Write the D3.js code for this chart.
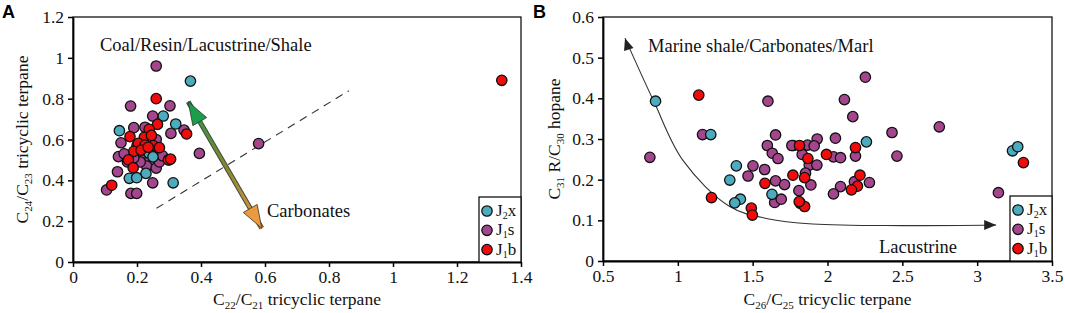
<!DOCTYPE html>
<html>
<head>
<meta charset="utf-8">
<script src="https://cdn.jsdelivr.net/npm/d3@7"></script>
<style>
  body { margin: 0; background: #fff; }
</style>
</head>
<body>
<svg width="1065" height="313"></svg>
<script>
// ---- data ----
var seriesNames = ['J2x', 'J1s', 'J1b'];

// panel A: C22/C21 vs C24/C23
var aJ2x = [[0.367, 0.886], [0.282, 0.715], [0.321, 0.676], [0.145, 0.643], [0.238, 0.532], [0.228, 0.434],
    [0.176, 0.41], [0.199, 0.413], [0.313, 0.388], [0.25, 0.515]];
var aJ1s = [[0.26, 0.96], [0.18, 0.764], [0.303, 0.765], [0.249, 0.715], [0.19, 0.658], [0.225, 0.66],
    [0.306, 0.63], [0.347, 0.646], [0.15, 0.584], [0.395, 0.532], [0.58, 0.58], [0.142, 0.516],
    [0.139, 0.442], [0.249, 0.388], [0.105, 0.353], [0.181, 0.336], [0.199, 0.336],
    [0.2, 0.53], [0.22, 0.52], [0.24, 0.5], [0.25, 0.48], [0.23, 0.47], [0.26, 0.46], [0.27, 0.49],
    [0.21, 0.49], [0.28, 0.52], [0.25, 0.55], [0.2, 0.57], [0.16, 0.53], [0.17, 0.49], [0.22, 0.55],
    [0.19, 0.51], [0.26, 0.6], [0.24, 0.63], [0.3, 0.5]];
var aJ1b = [[1.34, 0.89], [0.26, 0.8], [0.264, 0.674], [0.238, 0.65], [0.355, 0.627], [0.178, 0.614],
    [0.223, 0.611], [0.204, 0.581], [0.225, 0.573], [0.251, 0.57], [0.19, 0.542], [0.2125, 0.548],
    [0.235, 0.562], [0.173, 0.5], [0.298, 0.5], [0.305, 0.504], [0.188, 0.462], [0.121, 0.376],
    [0.27, 0.56], [0.245, 0.62]];

// panel B: C26/C25 vs C31R/C30
var bJ2x = [[0.851, 0.393], [1.22, 0.311], [1.391, 0.234], [1.347, 0.199], [1.629, 0.164], [1.418, 0.152],
    [1.38, 0.143], [2.26, 0.293], [3.236, 0.271], [3.271, 0.281]];
var bJ1s = [[0.813, 0.255], [1.165, 0.311], [1.602, 0.393], [1.653, 0.31], [1.598, 0.284], [1.77, 0.284],
    [1.502, 0.234], [1.58, 0.225], [1.631, 0.265], [1.669, 0.252], [1.469, 0.209], [1.653, 0.197],
    [1.713, 0.188], [1.809, 0.173], [1.647, 0.144], [1.691, 0.152], [2.253, 0.452], [2.113, 0.397],
    [2.169, 0.355], [2.431, 0.316], [2.747, 0.33], [1.931, 0.3], [2.053, 0.302], [1.867, 0.285],
    [1.911, 0.283], [2.187, 0.258], [2.04, 0.256], [2.087, 0.254], [1.831, 0.262], [1.878, 0.236],
    [1.929, 0.236], [1.853, 0.216], [1.889, 0.187], [2.087, 0.183], [2.04, 0.165], [2.18, 0.195],
    [2.28, 0.193], [2.464, 0.258], [3.142, 0.168], [1.762, 0.284]];
var bJ1b = [[1.14, 0.408], [1.813, 0.284], [1.582, 0.191], [1.769, 0.211], [1.847, 0.205], [1.818, 0.142],
    [1.847, 0.134], [1.225, 0.156], [1.491, 0.13], [1.498, 0.113], [2.187, 0.279], [1.993, 0.262],
    [1.869, 0.252], [2.217, 0.211], [2.2, 0.184], [2.16, 0.175], [1.811, 0.146], [3.309, 0.242]];

var aXTicks = [0, 0.2, 0.4, 0.6, 0.8, 1, 1.2, 1.4];
var aYTicks = [0, 0.2, 0.4, 0.6, 0.8, 1, 1.2];
var bXTicks = [0.5, 1, 1.5, 2, 2.5, 3, 3.5];
var bYTicks = [0, 0.1, 0.2, 0.3, 0.4, 0.5, 0.6];

// annotations (data space)
var aDashLine = [[0.261, 0.263], [0.862, 0.839]];
var aDoubleArrow = [[0.36, 0.785], [0.59, 0.165]];
var bCurve = [[0.647, 0.548], [0.84, 0.392], [1.033, 0.248], [1.347, 0.134], [1.6, 0.104],
    [1.9, 0.091], [2.5, 0.087], [3.127, 0.0885]];

var colors = { J2x: '#4bacc0', J1s: '#a4468e', J1b: '#f00c0c' };
var serif = '"Liberation Serif", "Times New Roman", serif';
var sans = '"Liberation Sans", Arial, sans-serif';
var fontSize = 17.5;

var svg = d3.select('svg');

function serifText(sel, size) {
    return sel.style('font-family', serif).style('font-size', size + 'px').attr('fill', '#111');
}

function drawPanel(opt) {
    var x = d3.scaleLinear().domain(opt.xDomain).range([opt.left, opt.right]);
    var y = d3.scaleLinear().domain(opt.yDomain).range([opt.bottom, opt.top]);
    var g = svg.append('g');

    g.append('rect')
        .attr('x', opt.left).attr('y', opt.top)
        .attr('width', opt.right - opt.left).attr('height', opt.bottom - opt.top)
        .attr('fill', 'none').attr('stroke', '#000').attr('stroke-width', 1.2);

    var xa = g.append('g').attr('transform', 'translate(0,' + opt.bottom + ')')
        .call(d3.axisBottom(x).tickValues(opt.xTicks).tickSize(5).tickSizeOuter(0).tickFormat(d3.format('')));
    var ya = g.append('g').attr('transform', 'translate(' + opt.left + ',0)')
        .call(d3.axisLeft(y).tickValues(opt.yTicks).tickSize(5).tickSizeOuter(0).tickFormat(d3.format('')));
    [xa, ya].forEach(function (a) {
        a.select('.domain').attr('stroke-width', 1.8);
        a.selectAll('.tick line').attr('stroke-width', 1.5);
        serifText(a.selectAll('.tick text'), fontSize);
    });
    xa.selectAll('.tick text').attr('dy', '0.72em');
    ya.selectAll('.tick text').attr('x', -9);

    opt.annotate(g, x, y);

    // points: J1s first, then J2x, then J1b on top
    [['J1s', opt.data.J1s], ['J2x', opt.data.J2x], ['J1b', opt.data.J1b]].forEach(function (s) {
        g.selectAll('.pt-' + s[0]).data(s[1]).enter().append('circle')
            .attr('class', 'pt-' + s[0])
            .attr('cx', function (d) { return x(d[0]); })
            .attr('cy', function (d) { return y(d[1]); })
            .attr('r', 5.2)
            .attr('fill', colors[s[0]])
            .attr('stroke', '#111').attr('stroke-width', 1.3);
    });

    // legend box in lower right corner
    var lw = 42, lh = 65;
    var lx = opt.right - lw, ly = opt.bottom - lh;
    var lg = g.append('g');
    lg.append('rect').attr('x', lx).attr('y', ly).attr('width', lw).attr('height', lh)
        .attr('fill', '#fff').attr('stroke', '#000').attr('stroke-width', 1.2);
    seriesNames.forEach(function (name, i) {
        var cy = ly + 14 + i * 19.3;
        lg.append('circle').attr('cx', lx + 8).attr('cy', cy).attr('r', 5.2)
            .attr('fill', colors[name]).attr('stroke', '#111').attr('stroke-width', 1.3);
        var t = serifText(lg.append('text').attr('x', lx + 17).attr('y', cy + 5), 17);
        t.append('tspan').text('J');
        t.append('tspan').style('font-size', '10px').attr('dy', 3).text(name.charAt(1));
        t.append('tspan').attr('dy', -3).text(name.charAt(2));
    });

    // x label
    var xl = serifText(g.append('text').attr('x', (opt.left + opt.right) / 2).attr('y', 305)
        .attr('text-anchor', 'middle'), fontSize);
    subText(xl, opt.xLabel);
    // y label
    var yl = serifText(g.append('text')
        .attr('transform', 'translate(' + opt.yLabelX + ',' + (opt.top + opt.bottom) / 2 + ') rotate(-90)')
        .attr('text-anchor', 'middle'), fontSize);
    subText(yl, opt.yLabel);

    svg.append('text').attr('x', opt.tagX).attr('y', 18)
        .style('font-family', sans).style('font-weight', 'bold').style('font-size', '18px')
        .text(opt.tag);
}

// parts: [text, isSub, afterSub]
function subText(el, parts) {
    parts.forEach(function (p) {
        var ts = el.append('tspan').text(p[0]);
        if (p[1]) ts.style('font-size', '11px').attr('dy', 4);
        else if (p[2]) ts.attr('dy', -4);
    });
}

function headPoints(tip, from, len, half) {
    var dx = tip[0] - from[0], dy = tip[1] - from[1];
    var l = Math.sqrt(dx * dx + dy * dy);
    var ux = dx / l, uy = dy / l;
    var bx = tip[0] - ux * len, by = tip[1] - uy * len;
    return [tip, [bx - uy * half, by + ux * half], [bx + uy * half, by - ux * half]]
        .map(function (p) { return p.join(','); }).join(' ');
}

drawPanel({
    left: 73, right: 521, top: 17, bottom: 262,
    xDomain: [0, 1.4], yDomain: [0, 1.2],
    xTicks: aXTicks, yTicks: aYTicks,
    data: { J2x: aJ2x, J1s: aJ1s, J1b: aJ1b },
    xLabel: [['C'], ['22', 1], ['/C', 0, 1], ['21', 1], [' tricyclic terpane', 0, 1]],
    yLabel: [['C'], ['24', 1], ['/C', 0, 1], ['23', 1], [' tricyclic terpane', 0, 1]],
    yLabelX: 28, tag: 'A', tagX: 2,
    annotate: function (g, x, y) {
        g.append('line')
            .attr('x1', x(aDashLine[0][0])).attr('y1', y(aDashLine[0][1]))
            .attr('x2', x(aDashLine[1][0])).attr('y2', y(aDashLine[1][1]))
            .attr('stroke', '#333').attr('stroke-width', 1.1).attr('stroke-dasharray', '8,6');

        var p0 = [x(aDoubleArrow[0][0]), y(aDoubleArrow[0][1])];
        var p1 = [x(aDoubleArrow[1][0]), y(aDoubleArrow[1][1])];
        var grad = svg.append('defs').append('linearGradient').attr('id', 'arrowGrad')
            .attr('gradientUnits', 'userSpaceOnUse')
            .attr('x1', p0[0]).attr('y1', p0[1]).attr('x2', p1[0]).attr('y2', p1[1]);
        grad.append('stop').attr('offset', '0%').attr('stop-color', '#1c9c4c');
        grad.append('stop').attr('offset', '50%').attr('stop-color', '#7f8a2c');
        grad.append('stop').attr('offset', '100%').attr('stop-color', '#e99a3c');
        g.append('line')
            .attr('x1', p0[0]).attr('y1', p0[1]).attr('x2', p1[0]).attr('y2', p1[1])
            .attr('stroke', '#444').attr('stroke-width', 5);
        g.append('line')
            .attr('x1', p0[0]).attr('y1', p0[1]).attr('x2', p1[0]).attr('y2', p1[1])
            .attr('stroke', 'url(#arrowGrad)').attr('stroke-width', 3);
        g.append('polygon').attr('points', headPoints(p0, p1, 23, 8))
            .attr('fill', '#1a9e4a').attr('stroke', '#333').attr('stroke-width', 0.8);
        g.append('polygon').attr('points', headPoints(p1, p0, 23, 8))
            .attr('fill', '#eb9a3e').attr('stroke', '#333').attr('stroke-width', 0.8);

        serifText(g.append('text').attr('x', 100).attr('y', 51), 18.5)
            .text('Coal/Resin/Lacustrine/Shale');
        serifText(g.append('text').attr('x', 267).attr('y', 217), 18.5).text('Carbonates');
    }
});

drawPanel({
    left: 603, right: 1052, top: 17, bottom: 261,
    xDomain: [0.5, 3.5], yDomain: [0, 0.6],
    xTicks: bXTicks, yTicks: bYTicks,
    data: { J2x: bJ2x, J1s: bJ1s, J1b: bJ1b },
    xLabel: [['C'], ['26', 1], ['/C', 0, 1], ['25', 1], [' tricyclic terpane', 0, 1]],
    yLabel: [['C'], ['31', 1], [' R/C', 0, 1], ['30', 1], [' hopane', 0, 1]],
    yLabelX: 560, tag: 'B', tagX: 533,
    annotate: function (g, x, y) {
        var pts = bCurve.map(function (d) { return [x(d[0]), y(d[1])]; });
        var line = d3.line().curve(d3.curveCatmullRom.alpha(0.5));
        g.append('path').attr('d', line(pts))
            .attr('fill', 'none').attr('stroke', '#333').attr('stroke-width', 1.1);
        var n = pts.length;
        g.append('polygon').attr('points', headPoints(pts[0], [pts[0][0] + 4, pts[0][1] + 12], 12, 5))
            .attr('fill', '#222');
        g.append('polygon').attr('points', headPoints(pts[n - 1], [pts[n - 1][0] - 12, pts[n - 1][1]], 12, 5))
            .attr('fill', '#222');

        serifText(g.append('text').attr('x', 648).attr('y', 52), 18.5)
            .text('Marine shale/Carbonates/Marl');
        serifText(g.append('text').attr('x', 879).attr('y', 253), 18.5).text('Lacustrine');
    }
});
</script>
</body>
</html>
